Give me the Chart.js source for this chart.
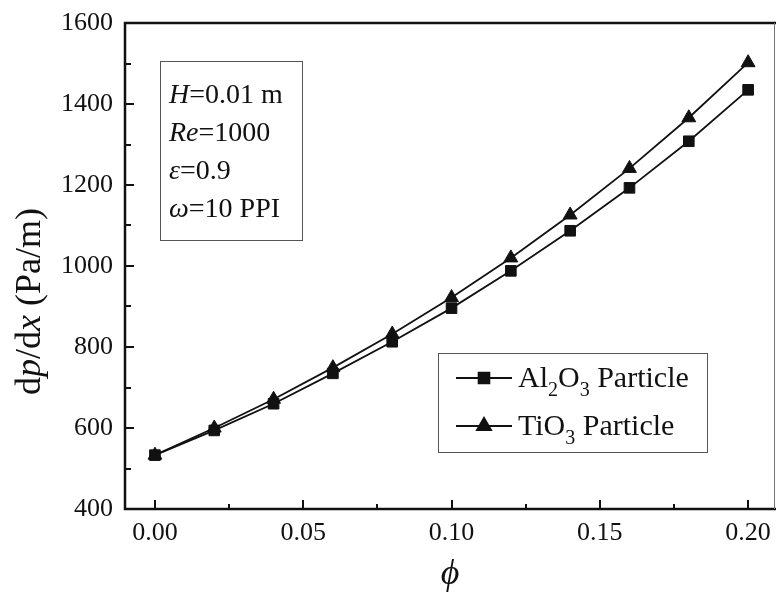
<!DOCTYPE html>
<html>
<head>
<meta charset="utf-8">
<script src="https://cdn.jsdelivr.net/npm/chart.js@4/dist/chart.umd.min.js"></script>
<style>
  html, body { margin: 0; padding: 0; background: #fff; }
  #wrap { width: 776px; height: 595px; }
</style>
</head>
<body>
<div id="wrap"><canvas id="lineChart" width="776" height="595"></canvas></div>
<script>
// =============== Données
const phi = [0.00, 0.02, 0.04, 0.06, 0.08, 0.10, 0.12, 0.14, 0.16, 0.18, 0.20];
const al2o3 = [533, 594, 660, 735, 813, 896, 988, 1087, 1193, 1308, 1435];
const tio3 = [533, 600, 671, 749, 832, 922, 1020, 1126, 1241, 1366, 1502];
const xTicks = [0.00, 0.05, 0.10, 0.15, 0.20];
const yTicks = [400, 600, 800, 1000, 1200, 1400, 1600];
const infoLines = [['H', '=0.01 m'], ['Re', '=1000'], ['\u03b5', '=0.9'], ['\u03c9', '=10 PPI']];

const serif = '"Liberation Serif", "DejaVu Serif", serif';
const ink = '#111';

// texte en plusieurs polices : parts = [[texte, police, dy]]
function drawParts(ctx, parts, x, y) {
    for (const [t, f, dy] of parts) {
        ctx.font = f;
        ctx.fillText(t, x, y + (dy || 0));
        x += ctx.measureText(t).width;
    }
}

const decor = {
    id: 'decor',
    afterDraw(chart) {
        const ctx = chart.ctx;
        const a = chart.chartArea;
        const xs = chart.scales.x, ys = chart.scales.y;
        ctx.save();
        ctx.strokeStyle = ink;
        ctx.fillStyle = ink;

        // cadre
        ctx.lineWidth = 2.5;
        ctx.beginPath();
        ctx.moveTo(a.right, a.top);
        ctx.lineTo(a.left, a.top);
        ctx.lineTo(a.left, a.bottom);
        ctx.lineTo(a.right, a.bottom);
        ctx.stroke();
        ctx.lineWidth = 1;
        ctx.strokeStyle = '#777';
        ctx.beginPath();
        ctx.moveTo(a.right - 1.5, a.top);
        ctx.lineTo(a.right - 1.5, a.bottom);
        ctx.stroke();
        ctx.strokeStyle = ink;

        // graduations vers l'intérieur
        ctx.lineWidth = 2;
        ctx.beginPath();
        for (let v = 0; v <= 0.2001; v += 0.025) {
            const px = Math.round(xs.getPixelForValue(v));
            const major = Math.abs(v / 0.05 - Math.round(v / 0.05)) < 1e-6;
            ctx.moveTo(px, a.bottom);
            ctx.lineTo(px, a.bottom - (major ? 9 : 5));
        }
        for (let v = 400; v <= 1600; v += 100) {
            const py = Math.round(ys.getPixelForValue(v));
            const major = v % 200 === 0;
            ctx.moveTo(a.left, py);
            ctx.lineTo(a.left + (major ? 9 : 6), py);
        }
        ctx.stroke();

        // titres des axes
        ctx.textBaseline = 'alphabetic';
        ctx.textAlign = 'left';
        ctx.save();
        ctx.translate(40, 395);
        ctx.rotate(-Math.PI / 2);
        drawParts(ctx, [['d', '36px ' + serif], ['p', 'italic 36px ' + serif], ['/d', '36px ' + serif],
                        ['x', 'italic 36px ' + serif], [' (Pa/m)', '36px ' + serif]], 0, 0);
        ctx.restore();

        ctx.font = 'italic 36px ' + serif;
        ctx.textAlign = 'center';
        ctx.fillText('\u03d5', 450, 584);
        ctx.textAlign = 'left';

        // encadré des paramètres
        ctx.lineWidth = 1;
        ctx.strokeStyle = '#555';
        ctx.strokeRect(160.5, 61.5, 142, 179);
        infoLines.forEach(([it, rest], i) => {
            drawParts(ctx, [[it, 'italic 28px ' + serif], [rest, '28px ' + serif]], 169, 103 + i * 38);
        });

        // légende
        ctx.strokeRect(438.5, 353.5, 269, 99);
        const rows = [
            { y: 378, style: 'rect', r: 7.5, parts: [['Al', '30px ' + serif], ['2', '20px ' + serif, 9], ['O', '30px ' + serif], ['3', '20px ' + serif, 9], [' Particle', '30px ' + serif]] },
            { y: 426, style: 'triangle', r: 8, parts: [['TiO', '30px ' + serif], ['3', '20px ' + serif, 9], [' Particle', '30px ' + serif]] }
        ];
        for (const row of rows) {
            ctx.strokeStyle = ink;
            ctx.lineWidth = 2;
            ctx.beginPath();
            ctx.moveTo(456, row.y);
            ctx.lineTo(512, row.y);
            ctx.stroke();
            Chart.helpers.drawPoint(ctx, { pointStyle: row.style, radius: row.r, borderWidth: 1 }, 484, row.y);
            ctx.fillStyle = ink;
            drawParts(ctx, row.parts, 518, row.y + 9);
        }
        ctx.restore();
    }
};

const line_chart = document.getElementById('lineChart');

new Chart(line_chart, {
    type: 'line',
    data: {
        labels: phi,
        datasets: [{
            label: 'Al2O3 Particle',
            data: phi.map((p, i) => ({ x: p, y: al2o3[i] })),
            borderColor: ink,
            backgroundColor: ink,
            borderWidth: 1.8,
            pointStyle: 'rect',
            pointRadius: 7.5,
            pointBorderWidth: 1,
            tension: 0,
            clip: 10
        }, {
            label: 'TiO3 Particle',
            data: phi.map((p, i) => ({ x: p, y: tio3[i] })),
            borderColor: ink,
            backgroundColor: ink,
            borderWidth: 1.8,
            pointStyle: 'triangle',
            pointRadius: 8,
            pointBorderWidth: 1,
            tension: 0,
            clip: 10
        }]
    },
    options: {
        responsive: false,
        animation: false,
        layout: { autoPadding: false, padding: { top: 23, right: 0, left: 0, bottom: 0 } },
        plugins: { legend: { display: false }, tooltip: { enabled: false } },
        scales: {
            x: {
                type: 'linear',
                min: -0.0101,
                max: 0.2094,
                afterBuildTicks: s => { s.ticks = xTicks.map(v => ({ value: v })); },
                afterFit: s => { s.height = 86; s.paddingRight = 0; s.paddingLeft = 0; },
                grid: { drawOnChartArea: false, drawTicks: false },
                border: { display: false },
                ticks: {
                    padding: 9,
                    color: ink,
                    maxRotation: 0,
                    font: { family: serif, size: 26 },
                    callback: v => v.toFixed(2)
                }
            },
            y: {
                min: 400,
                max: 1600,
                afterBuildTicks: s => { s.ticks = yTicks.map(v => ({ value: v })); },
                afterFit: s => { s.width = 125; s.paddingTop = 0; s.paddingBottom = 0; },
                grid: { drawOnChartArea: false, drawTicks: false },
                border: { display: false },
                ticks: {
                    padding: 12,
                    color: ink,
                    font: { family: serif, size: 26 },
                    callback: v => String(v)
                }
            }
        }
    },
    plugins: [decor]
});
</script>
</body>
</html>
